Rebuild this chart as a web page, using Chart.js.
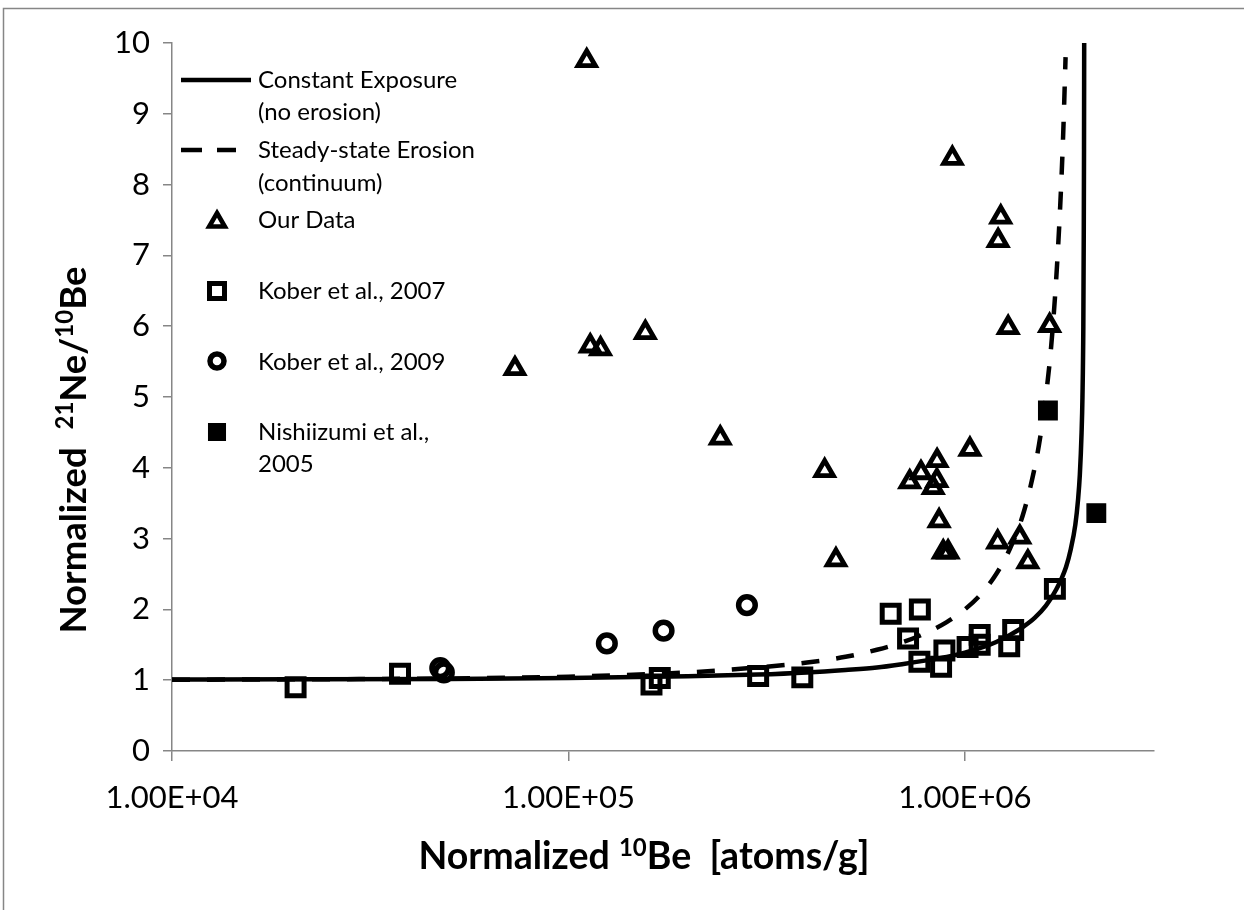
<!DOCTYPE html>
<html><head><meta charset="utf-8">
<script src="https://cdn.jsdelivr.net/npm/chart.js@4.4.1/dist/chart.umd.min.js"></script>
<style>html,body{margin:0;padding:0;background:#fff;} #wrap{width:1244px;height:910px;position:relative;background:#fff;}</style>
</head><body><div id="wrap"><canvas id="c" width="1244" height="910" style="width:1244px;height:910px"></canvas></div>
<script>
// ---- data ----
const xTickValues = [1e4, 1e5, 1e6];
const xTickLabels = ['1.00E+04', '1.00E+05', '1.00E+06'];

// Constant Exposure (no erosion) curve
const constX = [1e4, 2e4, 5e4, 1e5, 2e5, 3e5, 4e5, 5e5, 6e5, 7e5, 8e5, 9e5, 1e6, 1.1e6, 1.2e6, 1.3e6, 1.4e6, 1.5e6, 1.6e6, 1.7e6, 1.8e6, 1.85e6, 1.9e6, 1.93e6, 1.95e6, 1.97e6, 1.98e6, 1.99e6, 1.995e6, 1.998e6, 2.0e6];
const constY = [1.01, 1.012, 1.018, 1.03, 1.055, 1.08, 1.11, 1.145, 1.18, 1.23, 1.28, 1.33, 1.39, 1.46, 1.54, 1.64, 1.75, 1.88, 2.05, 2.28, 2.6, 2.85, 3.2, 3.55, 3.9, 4.5, 5.0, 6.0, 7.3, 8.5, 10.0];

// Steady-state Erosion (continuum) curve
const ssX = [1e4, 5e4, 1e5, 2e5, 3e5, 4e5, 5e5, 6e5, 7e5, 8e5, 9e5, 1e6, 1.1e6, 1.2e6, 1.3e6, 1.4e6, 1.5e6, 1.55e6, 1.6e6, 1.65e6, 1.7e6, 1.74e6, 1.77e6, 1.795e6];
const ssY = [1.005, 1.025, 1.05, 1.11, 1.18, 1.25, 1.33, 1.43, 1.54, 1.67, 1.82, 2.0, 2.22, 2.5, 2.86, 3.33, 4.0, 4.44, 5.0, 5.7, 6.67, 7.7, 8.7, 9.8];

// Our Data (triangles)
const ourX = [1.112e5, 7.33e4, 1.135e5, 1.205e5, 1.563e5, 2.415e5, 4.43e5, 4.73e5, 9.3e5, 1.232e6, 1.213e6, 1.286e6, 1.636e6, 1.03e6, 8.51e5, 7.75e5, 7.26e5, 8.5e5, 8.32e5, 8.61e5, 8.82e5, 9.07e5, 1.21e6, 1.376e6, 1.442e6];
const ourY = [9.75, 5.40, 5.72, 5.68, 5.91, 4.42, 3.96, 2.70, 8.37, 7.54, 7.21, 5.98, 6.01, 4.26, 4.10, 3.93, 3.80, 3.82, 3.72, 3.25, 2.81, 2.81, 2.95, 3.02, 2.67];

// Kober et al., 2007 (open squares)
const kober07X = [2.05e4, 3.76e4, 1.62e5, 1.70e5, 3.01e5, 3.89e5, 6.5e5, 7.7e5, 7.19e5, 7.68e5, 8.71e5, 8.88e5, 1.016e6, 1.09e6, 1.09e6, 1.324e6, 1.294e6, 1.687e6];
const kober07Y = [0.90, 1.09, 0.94, 1.03, 1.06, 1.04, 1.94, 2.00, 1.59, 1.26, 1.19, 1.42, 1.47, 1.64, 1.50, 1.71, 1.48, 2.29];

// Kober et al., 2009 (open circles)
const kober09X = [4.75e4, 4.85e4, 1.25e5, 1.738e5, 2.82e5];
const kober09Y = [1.17, 1.11, 1.52, 1.70, 2.06];

// Nishiizumi et al., 2005 (filled squares)
const nishX = [1.62e6, 2.146e6];
const nishY = [4.81, 3.36];

const legendLabels = [['Constant Exposure', '(no erosion)'], ['Steady-state Erosion', '(continuum)'], ['Our Data'], ['Kober et al., 2007'], ['Kober et al., 2009'], ['Nishiizumi et al.,', '2005']];

// ---- chart ----
const FONT = 'Lato, "Open Sans", "DejaVu Sans", sans-serif';
Chart.defaults.font.family = FONT;
Chart.defaults.color = '#000';
const toPts = (xs, ys) => xs.map((x, i) => ({x: x, y: ys[i]}));
const AXIS = '#868686';

function drawRich(ctx, parts, size, supSize, supRise) {
  let w = 0;
  parts.forEach(p => {
    ctx.font = 'bold ' + (p.sup ? supSize : size) + 'px ' + FONT;
    w += ctx.measureText(p.t).width;
  });
  let x = -w / 2;
  parts.forEach(p => {
    ctx.font = 'bold ' + (p.sup ? supSize : size) + 'px ' + FONT;
    ctx.fillText(p.t, x, p.sup ? -supRise : 0);
    x += ctx.measureText(p.t).width;
  });
  return w;
}

const decor = {
  id: 'decor',
  afterDraw(chart) {
    const ctx = chart.ctx;
    ctx.save();
    // outer border (top & left visible)
    ctx.strokeStyle = AXIS; ctx.lineWidth = 1.5;
    ctx.beginPath(); ctx.moveTo(3.5, 910); ctx.lineTo(3.5, 8.5); ctx.lineTo(1244, 8.5); ctx.stroke();

    ctx.fillStyle = '#000'; ctx.textBaseline = 'alphabetic'; ctx.textAlign = 'left';
    // x title
    ctx.save(); ctx.translate(644, 869);
    drawRich(ctx, [{t: 'Normalized '}, {t: '10', sup: true}, {t: 'Be  [atoms/g]'}], 37.5, 24, 13);
    ctx.restore();
    // y title
    ctx.save(); ctx.translate(86, 450); ctx.rotate(-Math.PI / 2);
    drawRich(ctx, [{t: 'Normalized  '}, {t: '21', sup: true}, {t: 'Ne/'}, {t: '10', sup: true}, {t: 'Be'}], 36.5, 24, 13);
    ctx.restore();

    // legend
    ctx.strokeStyle = '#000'; ctx.lineWidth = 4.5; ctx.lineCap = 'butt';
    ctx.beginPath(); ctx.moveTo(181, 80); ctx.lineTo(251, 80); ctx.stroke();
    ctx.setLineDash([21, 15]);
    ctx.beginPath(); ctx.moveTo(181, 150); ctx.lineTo(236, 150); ctx.stroke();
    ctx.setLineDash([]);
    const mk = chart.data.datasets;
    const pts = [[2, 222], [3, 291], [4, 361], [5, 432]];
    pts.forEach(([di, y]) => {
      const ds = mk[di];
      ctx.strokeStyle = ds.pointBorderColor; ctx.fillStyle = ds.pointBackgroundColor;
      ctx.lineWidth = ds.legendBorder;
      ctx.lineJoin = 'miter';
      Chart.helpers.drawPoint(ctx, {pointStyle: ds.pointStyle, radius: ds.legendRadius, borderWidth: ds.legendBorder, rotation: 0}, 217, y);
    });
    ctx.fillStyle = '#000';
    ctx.font = '24px ' + FONT; ctx.textBaseline = 'middle';
    const rows = [[80, 112], [150, 183], [220], [291], [362], [432, 464]];
    legendLabels.forEach((lines, i) => {
      lines.forEach((s, j) => ctx.fillText(s, 258, rows[i][j]));
    });
    ctx.restore();
  }
};

const openPt = (style, r, w, lr, lw) => ({pointStyle: style, pointRadius: r, pointHoverRadius: r, legendRadius: lr, legendBorder: lw, pointBorderWidth: w, pointHoverBorderWidth: w, pointBorderColor: '#000', pointBackgroundColor: 'rgba(0,0,0,0)', borderColor: '#000', backgroundColor: 'rgba(0,0,0,0)', showLine: false});

new Chart(document.getElementById('c').getContext('2d'), {
  type: 'scatter',
  data: {datasets: [
    {label: 'Constant Exposure (no erosion)', data: toPts(constX, constY), showLine: true, borderColor: '#000', backgroundColor: '#000', borderWidth: 4.5, pointRadius: 0, pointHoverRadius: 0, cubicInterpolationMode: 'monotone', order: 1},
    {label: 'Steady-state Erosion (continuum)', data: toPts(ssX, ssY), showLine: true, borderColor: '#000', backgroundColor: '#000', borderWidth: 4.5, borderDash: [18, 17], pointRadius: 0, pointHoverRadius: 0, cubicInterpolationMode: 'monotone', order: 2},
    Object.assign({label: 'Our Data', data: toPts(ourX, ourY), order: 3}, openPt('triangle', 10, 4.8, 9, 4.6)),
    Object.assign({label: 'Kober et al., 2007', data: toPts(kober07X, kober07Y), order: 4}, openPt('rect', 12, 5, 10.6, 5)),
    Object.assign({label: 'Kober et al., 2009', data: toPts(kober09X, kober09Y), order: 5}, openPt('circle', 8.3, 5.5, 7, 5.5)),
    {label: 'Nishiizumi et al., 2005', data: toPts(nishX, nishY), order: 6, pointStyle: 'rect', pointRadius: 13, pointHoverRadius: 13, legendRadius: 11.7, legendBorder: 1.5, pointBorderWidth: 1.5, pointBorderColor: '#000', pointBackgroundColor: '#000', borderColor: '#000', backgroundColor: '#000', showLine: false}
  ]},
  options: {
    responsive: false, animation: false, devicePixelRatio: 1, events: [],
    layout: {padding: {left: 0, right: 90, top: 43, bottom: 0}},
    plugins: {legend: {display: false}, tooltip: {enabled: false}},
    scales: {
      x: {
        type: 'logarithmic', min: 1e4, max: 3e6,
        afterFit(s) { s.height = 159; },
        afterBuildTicks(s) { s.ticks = xTickValues.map(v => ({value: v})); },
        ticks: {callback: (v, i) => xTickLabels[i], font: {size: 31}, padding: 18, maxRotation: 0, autoSkip: false, color: '#000'},
        grid: {drawOnChartArea: false, drawTicks: true, tickLength: 10, color: AXIS, lineWidth: 1.5},
        border: {display: true, color: AXIS, width: 1.5}
      },
      y: {
        min: 0, max: 10,
        afterFit(s) { s.width = 172; },
        ticks: {stepSize: 1, font: {size: 31}, padding: 13, color: '#000'},
        grid: {drawOnChartArea: false, drawTicks: true, tickLength: 9, color: AXIS, lineWidth: 1.5},
        border: {display: true, color: AXIS, width: 1.5}
      }
    }
  },
  plugins: [decor]
});
</script></body></html>
